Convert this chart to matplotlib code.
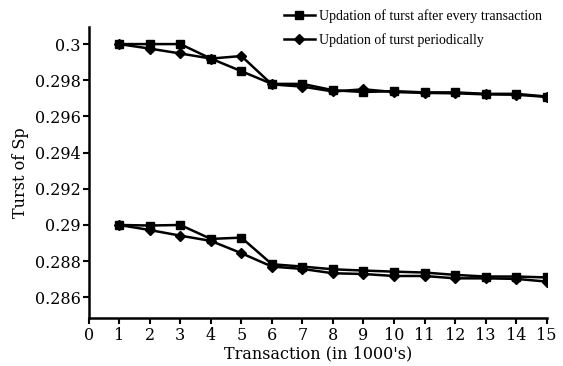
import matplotlib
matplotlib.use("Agg")
import matplotlib.pyplot as plt
from matplotlib.ticker import FuncFormatter

plt.rcParams['font.family'] = ['DejaVu Serif', 'Liberation Serif']

transactions = list(range(1, 16))
upper_every = [0.3, 0.3, 0.3, 0.2992, 0.2985, 0.2978, 0.2978, 0.29745, 0.29735, 0.2974, 0.29733, 0.29733, 0.29725, 0.29725, 0.2971]
upper_periodic = [0.3, 0.29975, 0.29948, 0.2992, 0.29934, 0.29777, 0.29765, 0.29738, 0.2975, 0.29735, 0.2973, 0.29728, 0.29722, 0.2972, 0.29708]
lower_every = [0.29, 0.28997, 0.29, 0.28923, 0.2893, 0.28783, 0.2877, 0.28755, 0.28748, 0.28742, 0.28737, 0.28724, 0.28715, 0.28715, 0.2871]
lower_periodic = [0.29, 0.28972, 0.28941, 0.28912, 0.28844, 0.2877, 0.28757, 0.28733, 0.28729, 0.28718, 0.28718, 0.28705, 0.28705, 0.28702, 0.28687]

labels = ["Updation of turst after every transaction", "Updation of turst periodically"]
xticks = list(range(0, 16))
yticks = [0.286, 0.288, 0.29, 0.292, 0.294, 0.296, 0.298, 0.3]

fig = plt.figure(figsize=(5.63, 3.66), dpi=100)
ax = fig.add_axes([0.1576, 0.1303, 0.9710 - 0.1576, 0.926 - 0.1303])

lw = 1.8
l1, = ax.plot(transactions, upper_every, color='black', lw=lw, marker='s', ms=5.8, label=labels[0])
l2, = ax.plot(transactions, upper_periodic, color='black', lw=lw, marker='D', ms=5.2, label=labels[1])
ax.plot(transactions, lower_every, color='black', lw=lw, marker='s', ms=5.8)
ax.plot(transactions, lower_periodic, color='black', lw=lw, marker='D', ms=5.2)

ax.set_xlim(0, 15)
ax.set_ylim(0.28484, 0.30094)
ax.set_xticks(xticks)
ax.set_yticks(yticks)
ax.yaxis.set_major_formatter(FuncFormatter(lambda v, p: ('%.3f' % v).rstrip('0').rstrip('.')))

for s in ['top', 'right']:
    ax.spines[s].set_visible(False)
for s in ['left', 'bottom']:
    ax.spines[s].set_linewidth(1.8)
ax.tick_params(axis='both', direction='out', width=1.5, length=4, labelsize=11.5, pad=2)

ax.set_xlabel("Transaction (in 1000's)", fontsize=11.5, labelpad=1)
ax.set_ylabel("Turst of Sp", fontsize=11.5, labelpad=4)

fig.legend(handles=[l1, l2], labels=labels, loc='upper left', bbox_to_anchor=(284/563, 1 - 9/366),
           frameon=False, prop={'family': 'Liberation Serif', 'size': 10}, handlelength=2.2,
           handletextpad=0.35, borderpad=0, labelspacing=0.75, borderaxespad=0)

fig.savefig("out.png", dpi=100)
